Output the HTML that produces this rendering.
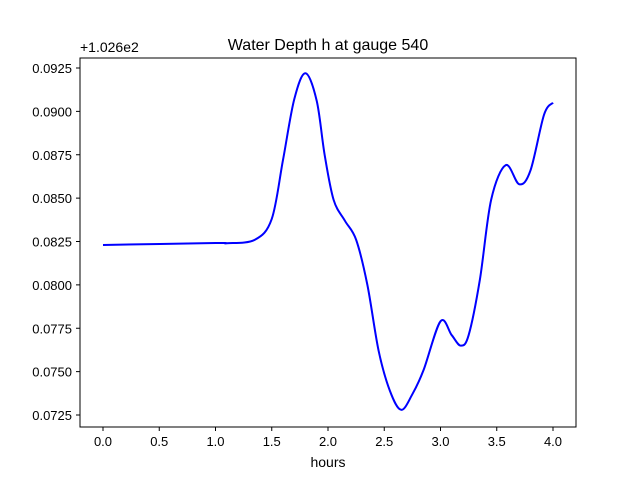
<!DOCTYPE html>
<html><head><meta charset="utf-8"><style>
body{margin:0;background:#fff}
svg{font-family:"Liberation Sans","DejaVu Sans",sans-serif}
</style></head><body>
<svg id="chart" width="640" height="480">
<rect width="640" height="480" fill="#fff"/>
<text x="328" y="50" font-size="16" text-anchor="middle">Water Depth h at gauge 540</text>
<text x="80" y="52" font-size="14">+1.026e2</text>
<text x="328" y="467" font-size="14" text-anchor="middle">hours</text>
<g id="ticks"></g>
<path id="line" fill="none" stroke="#0000ff" stroke-width="2"/>
<rect x="80" y="58" width="496" height="369" fill="none" stroke="#000" stroke-width="1"/>
</svg>
<script>
const xTicks=[0,0.5,1,1.5,2,2.5,3,3.5,4];
const yTicks=[0.0725,0.0750,0.0775,0.0800,0.0825,0.0850,0.0875,0.0900,0.0925];
const hours=[0,1.0,1.1,1.35,1.5,1.6,1.7,1.8,1.9,1.97,2.05,2.15,2.25,2.35,2.45,2.55,2.65,2.75,2.85,3.0,3.1,3.18,3.25,3.35,3.45,3.58,3.7,3.8,3.92,4.0];
const depth=[0.0823,0.08241,0.0824,0.0826,0.0838,0.0872,0.0907,0.0922,0.0906,0.0875,0.0849,0.0837,0.0826,0.0800,0.0762,0.0739,0.0728,0.0737,0.0751,0.0779,0.0771,0.0765,0.0771,0.0803,0.0849,0.0869,0.0858,0.0866,0.0898,0.0905];
const X=v=>103+v*112.5;
const Y=v=>68+(0.0925-v)*17350;
const g=document.getElementById('ticks');
const NS='http://www.w3.org/2000/svg';
xTicks.forEach(t=>{
 const l=document.createElementNS(NS,'line');
 
 
 l.setAttribute('x1',X(t));l.setAttribute('x2',X(t));l.setAttribute('y1',427);l.setAttribute('y2',431);l.setAttribute('stroke','#000');
 g.appendChild(l);
 const tx=document.createElementNS(NS,'text');
 
 
 tx.setAttribute('x',X(t));tx.setAttribute('y',446);tx.setAttribute('font-size','13');tx.setAttribute('text-anchor','middle');
 tx.textContent=t.toFixed(1);g.appendChild(tx);
});
yTicks.forEach(t=>{
 const l=document.createElementNS(NS,'line');
 
 
 l.setAttribute('x1',76);l.setAttribute('x2',80);l.setAttribute('y1',Y(t));l.setAttribute('y2',Y(t));l.setAttribute('stroke','#000');
 g.appendChild(l);
 const tx=document.createElementNS(NS,'text');
 
 
 tx.setAttribute('x',72);tx.setAttribute('y',Y(t)+5);tx.setAttribute('font-size','13');tx.setAttribute('text-anchor','end');
 tx.textContent=t.toFixed(4);g.appendChild(tx);
});
const p=hours.map((h,i)=>[X(h),Y(depth[i])]);
let d='M'+p[0][0]+','+p[0][1];
for(let i=0;i<p.length-1;i++){
 const p0=p[i-1]||p[i],p1=p[i],p2=p[i+1],p3=p[i+2]||p2;
 const c1=[p1[0]+(p2[0]-p0[0])/6,p1[1]+(p2[1]-p0[1])/6];
 const c2=[p2[0]-(p3[0]-p1[0])/6,p2[1]-(p3[1]-p1[1])/6];
 d+=` C${c1[0]},${c1[1]} ${c2[0]},${c2[1]} ${p2[0]},${p2[1]}`;
}
document.getElementById('line').setAttribute('d',d);
</script>
</body></html>
